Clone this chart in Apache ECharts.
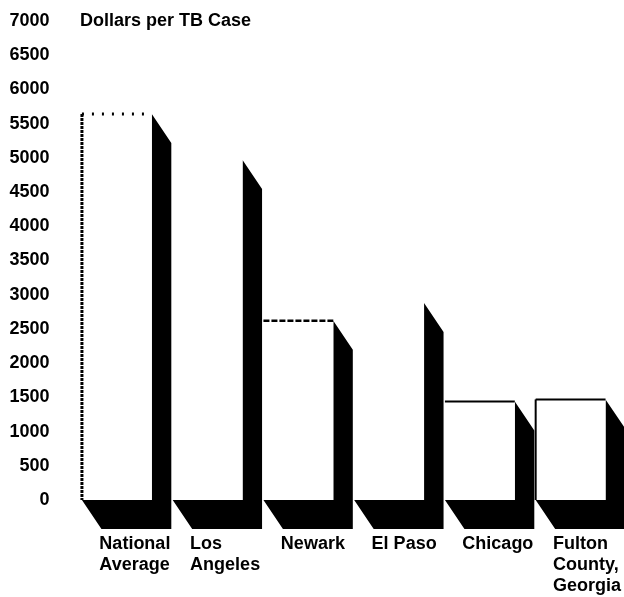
<!DOCTYPE html>
<html>
<head>
<meta charset="utf-8">
<style>
  html, body { margin: 0; padding: 0; background: #fff; }
  #chart { width: 624px; height: 597px; }
</style>
<script src="https://cdn.jsdelivr.net/npm/echarts@6/dist/echarts.min.js"></script>
</head>
<body>
<div id="chart"></div>
<script>
// data
const categories = ['National\nAverage', 'Los\nAngeles', 'Newark', 'El Paso', 'Chicago', 'Fulton\nCounty,\nGeorgia'];
const costPerCase = [5640, 4970, 2620, 2880, 1440, 1470];
const yMin = 0;
const yMax = 7000;
const yStep = 500;

// how the white front face of each bar is outlined (null dash = solid)
const faceEdges = [
  { sides: ['left'], dash: [3, 1], width: 3 },
  { sides: ['top'], dash: [2, 8], width: 3 },
  null,
  { sides: ['top'], dash: [6, 2], width: 2.5 },
  null,
  { sides: ['top'], dash: null, width: 2 },
  { sides: ['left', 'top'], dash: null, width: 2 }
];
const edgeBar = [0, 0, 2, 2, 4, 4, 5];

const font = 'Liberation Sans, Arial, Helvetica, sans-serif';
const shadowDx = 19.5;
const shadowDy = 29;

function renderItem(params, api) {
  const i = params.dataIndex;
  const top = api.coord([api.value(0), api.value(1)]);
  const base = api.coord([api.value(0), 0]);
  const w = api.size([1, 0])[0] * 0.77;
  const x0 = top[0] - w / 2;
  const x1 = top[0] + w / 2;
  const yT = top[1];
  const yB = base[1];

  const children = [
    {
      type: 'polygon',
      shape: {
        points: [
          [x1, yT], [x1 + shadowDx, yT + shadowDy], [x1 + shadowDx, yB + shadowDy],
          [x0 + shadowDx, yB + shadowDy], [x0, yB], [x1, yB]
        ]
      },
      style: { fill: '#000' }
    },
    {
      type: 'rect',
      shape: { x: x0, y: yT, width: w, height: yB - yT },
      style: { fill: '#fff' }
    }
  ];

  faceEdges.forEach(function (e, k) {
    if (!e || edgeBar[k] !== i) return;
    e.sides.forEach(function (side) {
      const shape = side === 'left'
        ? { x1: x0, y1: yT, x2: x0, y2: yB }
        : { x1: x0, y1: yT, x2: x1, y2: yT };
      children.push({
        type: 'line',
        shape: shape,
        style: { stroke: '#000', lineWidth: e.width, lineDash: e.dash || undefined }
      });
    });
  });

  return { type: 'group', children: children };
}

const chart = echarts.init(document.getElementById('chart'));
chart.setOption({
  animation: false,
  backgroundColor: '#fff',
  title: {
    text: 'Dollars per TB Case',
    left: 80,
    top: 12,
    padding: 0,
    textStyle: { fontFamily: font, fontSize: 18, fontWeight: 'bold', color: '#000' }
  },
  grid: { left: 71.5, right: 6.5, top: 21, bottom: 93.5 },
  xAxis: {
    type: 'category',
    data: categories,
    axisLine: { show: false },
    axisTick: { show: false },
    axisLabel: {
      interval: 0,
      align: 'left',
      padding: [0, 0, 0, -17.5],
      margin: 34,
      lineHeight: 21,
      fontFamily: font,
      fontSize: 18,
      fontWeight: 'bold',
      color: '#000'
    }
  },
  yAxis: {
    type: 'value',
    min: yMin,
    max: yMax,
    interval: yStep,
    axisLine: { show: false },
    axisTick: { show: false },
    splitLine: { show: false },
    axisLabel: {
      margin: 22,
      formatter: function (v) { return String(v); },
      fontFamily: font,
      fontSize: 18,
      fontWeight: 'bold',
      color: '#000'
    }
  },
  series: [{
    type: 'custom',
    clip: false,
    renderItem: renderItem,
    data: costPerCase.map(function (v, i) { return [i, v]; })
  }]
});
</script>
</body>
</html>
